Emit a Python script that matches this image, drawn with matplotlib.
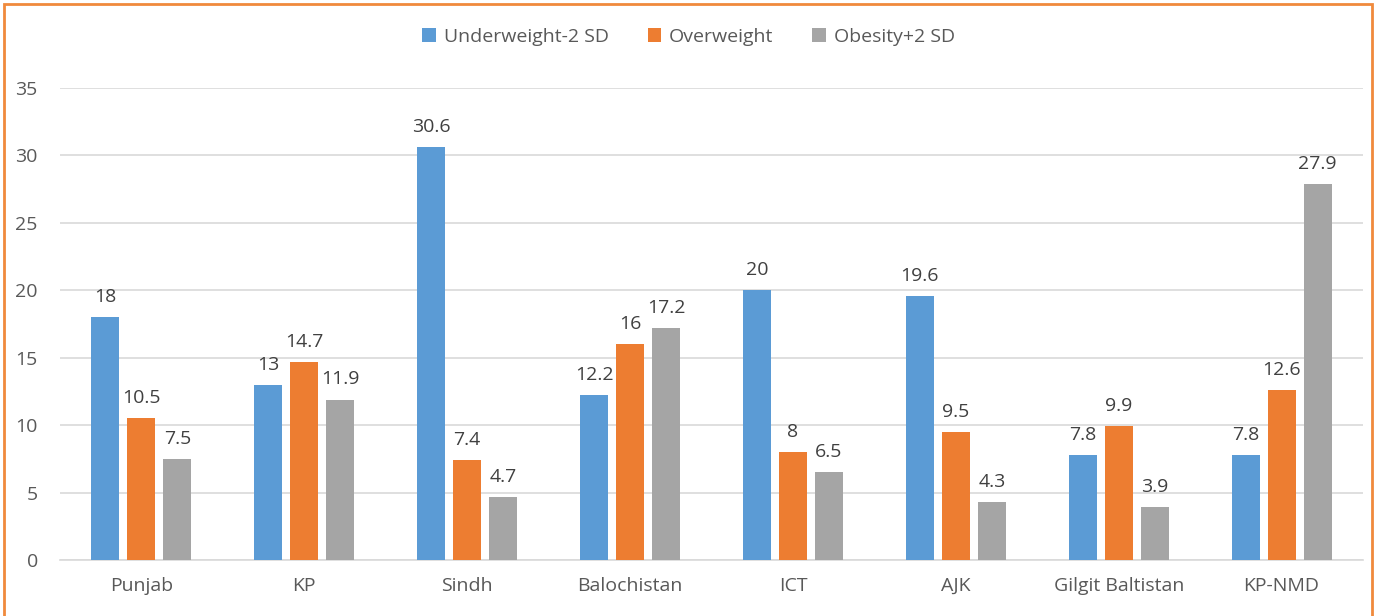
import matplotlib.pyplot as plt
import numpy as np
from matplotlib.patches import Rectangle

regions = ["Punjab", "KP", "Sindh", "Balochistan", "ICT", "AJK", "Gilgit Baltistan", "KP-NMD"]
underweight = [18, 13, 30.6, 12.2, 20, 19.6, 7.8, 7.8]
overweight = [10.5, 14.7, 7.4, 16, 8, 9.5, 9.9, 12.6]
obesity = [7.5, 11.9, 4.7, 17.2, 6.5, 4.3, 3.9, 27.9]
series_names = ["Underweight-2 SD", "Overweight", "Obesity+2 SD"]
colors = ["#5B9BD5", "#ED7D31", "#A5A5A5"]

plt.rcParams["font.family"] = ["Open Sans", "DejaVu Sans"]
text_col = "#595959"

fig = plt.figure(figsize=(13.77, 6.16), dpi=100)
ax = fig.add_axes([60 / 1377, 1 - 560 / 616, 1303 / 1377, 472 / 616])

x = np.arange(len(regions))
w = 0.172
step = 0.221
for i, (vals, name, c) in enumerate(zip([underweight, overweight, obesity], series_names, colors)):
    bars = ax.bar(x + (i - 1) * step, vals, width=w, color=c, label=name, zorder=3)
    for b, v in zip(bars, vals):
        ax.annotate(f"{v:g}", (b.get_x() + b.get_width() / 2, v), xytext=(0, 8),
                    textcoords="offset points", ha="center", va="bottom",
                    fontsize=14, color="#404040")

ax.set_xlim(-0.5, len(regions) - 0.5)
ax.set_ylim(0, 35)
ax.set_yticks(range(0, 36, 5))
ax.set_xticks(x)
ax.set_xticklabels(regions)
ax.tick_params(axis="both", length=0, labelsize=14, labelcolor=text_col)
ax.tick_params(axis="y", pad=16)
ax.tick_params(axis="x", pad=12)
ax.grid(axis="y", color="#D9D9D9", linewidth=1.2, zorder=0)
for s in ["top", "right", "left"]:
    ax.spines[s].set_visible(False)
ax.spines["bottom"].set_color("#D9D9D9")
ax.spines["bottom"].set_linewidth(1.2)

leg = fig.legend(loc="center", bbox_to_anchor=(0.5, 1 - 37 / 616), ncol=3, frameon=False,
                 fontsize=14, handlelength=0.7, handleheight=0.7, handletextpad=0.4,
                 columnspacing=2.0)
for t in leg.get_texts():
    t.set_color(text_col)

fig.patches.append(Rectangle((4 / 1377, -0.05), 1368 / 1377, 1.05 - 4 / 616,
                             transform=fig.transFigure, fill=False,
                             edgecolor="#F08A3C", linewidth=2, zorder=10))

fig.savefig("out.png", dpi=100)
